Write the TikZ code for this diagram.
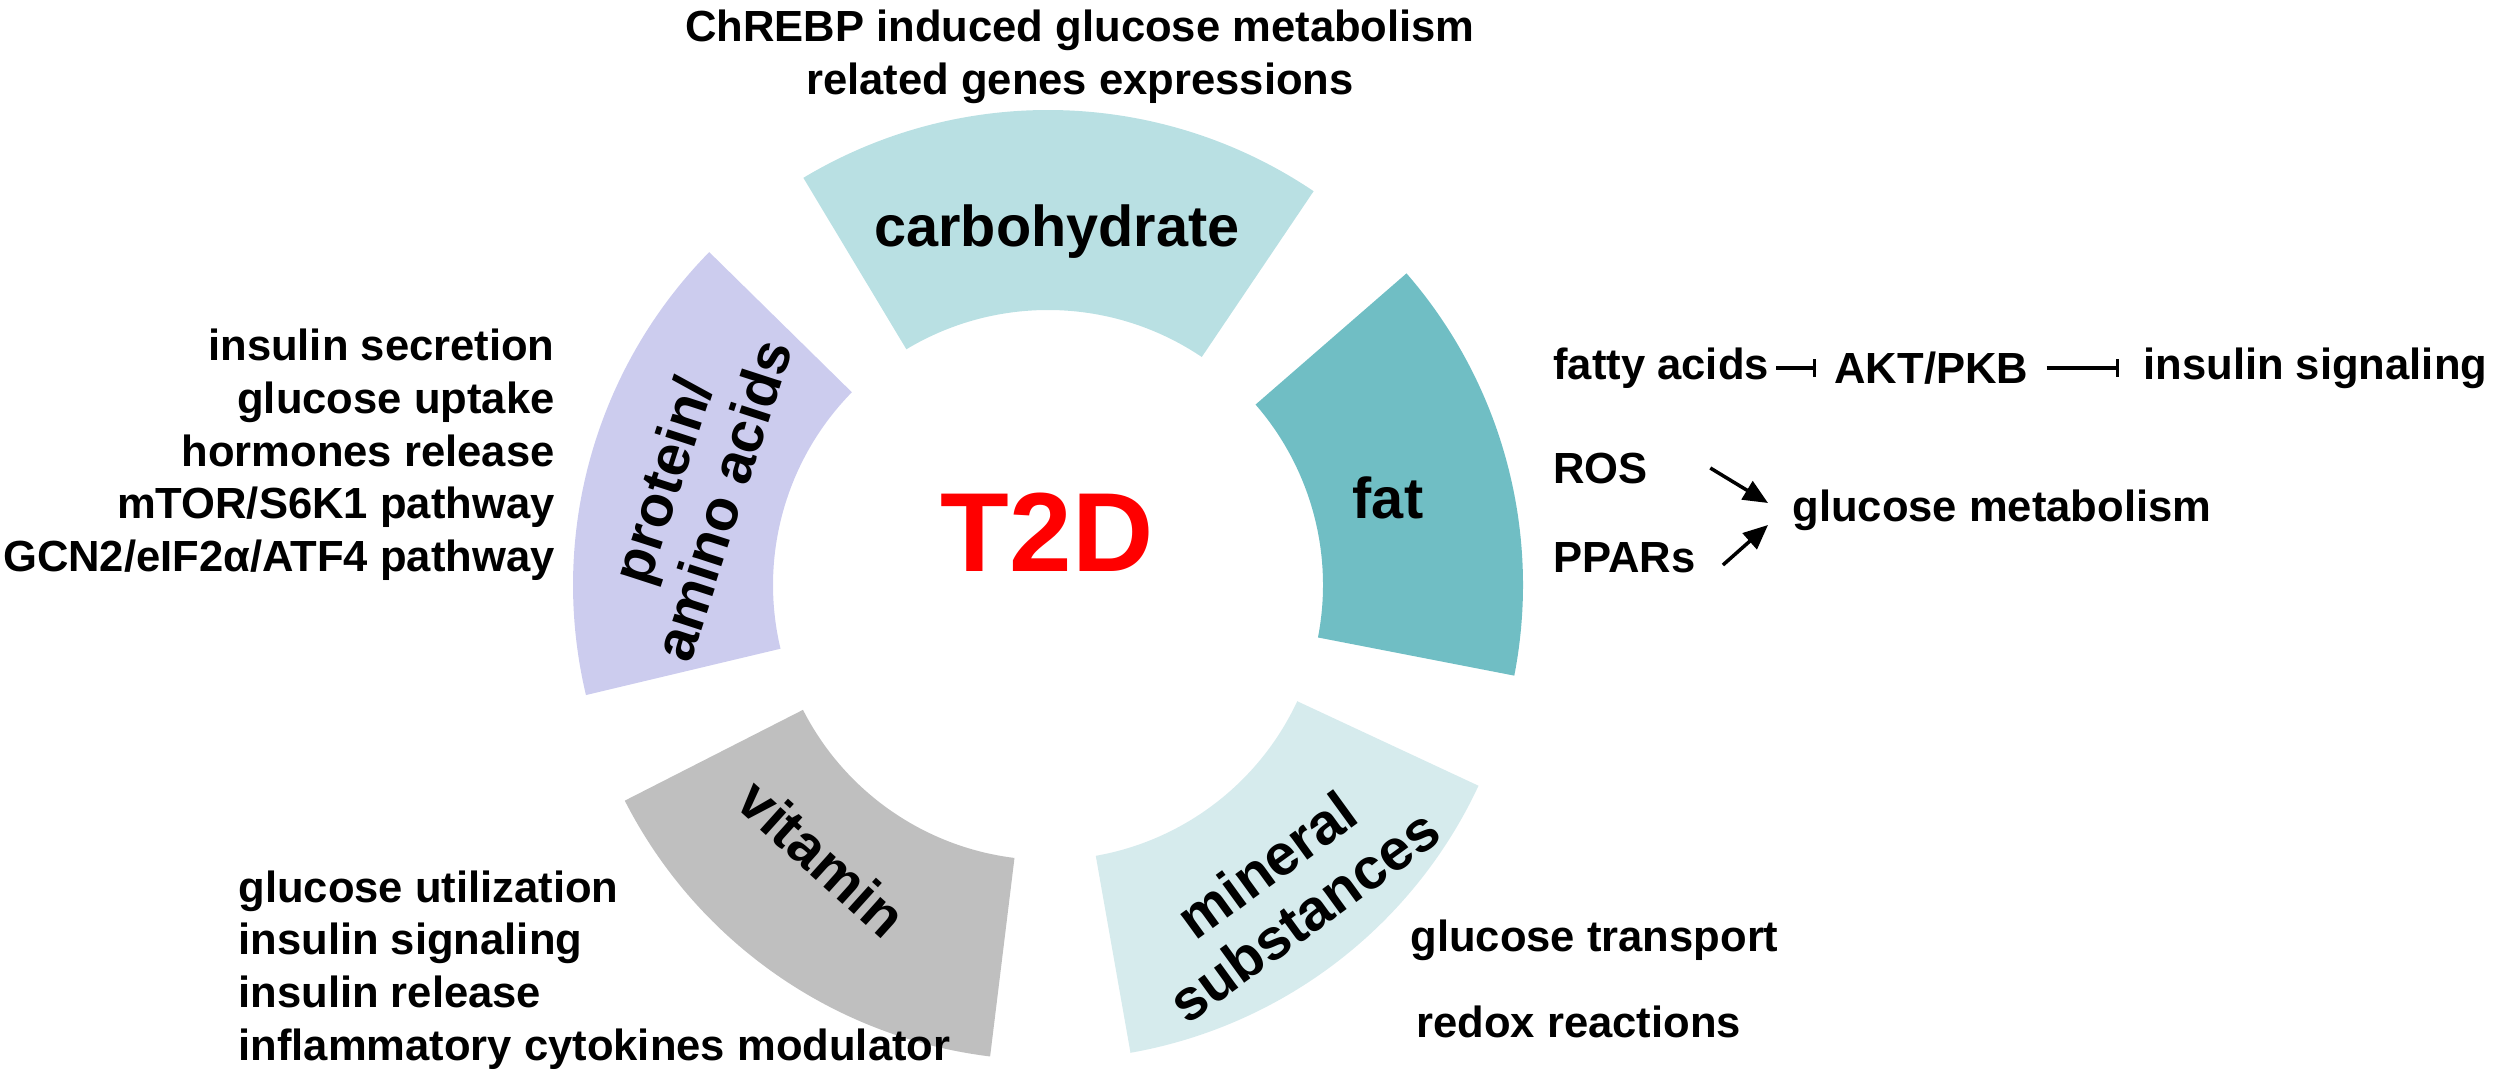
\documentclass[tikz,border=0pt]{standalone}
\usepackage{fontspec}
\setmainfont{Liberation Sans}
\usetikzlibrary{arrows.meta}

\definecolor{carbfill}{RGB}{185,224,227}
\definecolor{fatfill}{RGB}{112,190,196}
\definecolor{minefill}{RGB}{214,235,237}
\definecolor{vitfill}{RGB}{191,191,191}
\definecolor{protfill}{RGB}{204,204,238}
\definecolor{t2dred}{RGB}{255,0,0}

\begin{document}
\begin{tikzpicture}[
    every node/.style={font=\bfseries\fontsize{12.4}{15}\selectfont},
    seg/.style={font=\bfseries\fontsize{16.4}{18}\selectfont},
    inh/.style={line width=1pt, -{Bar[width=5pt]}},
    act/.style={line width=1pt, -{Triangle[length=7pt,width=6pt]}}
  ]
  \useasboundingbox (0,0) rectangle (25,-10.86);

  \foreach \a/\b/\c in {56/121/carbfill, -11/41/fatfill, -80/-25/minefill,
                        207/263/vitfill, 135.5/193.4/protfill}
    \fill[\c, shift={(10.48,-5.85)}] (\a:2.75) arc[start angle=\a, end angle=\b, radius=2.75]
      -- (\b:4.75) arc[start angle=\b, end angle=\a, radius=4.75] -- cycle;

  \node[seg] (carb) at (10.57,-2.32) {carbohydrate};
  \node[seg] (fat) at (13.88,-4.98) {fat};
  \node[seg, rotate=72, align=center] (prot) at (6.92,-4.90) {protein/\\amino acids};
  \node[seg, rotate=-42] (vit) at (8.22,-8.58) {vitamin};
  \node[seg, rotate=36, align=center] (mine) at (12.85,-8.90) {mineral\\substances};
  \node[font=\bfseries\fontsize{32}{36}\selectfont, text=t2dred] (t2d) at (10.47,-5.32) {T2D};

  \node[align=center] (chrebp) at (10.80,-0.57) {ChREBP induced glucose metabolism\\related genes expressions};
  \node[anchor=east, align=right] (protfx) at (5.67,-4.55) {insulin secretion\\glucose uptake\\hormones release\\mTOR/S6K1 pathway\\GCN2/eIF2α/ATF4 pathway};
  \node[anchor=west, align=left] (vitfx) at (2.26,-9.70) {glucose utilization\\insulin signaling\\insulin release\\inflammatory cytokines modulator};
  \node[anchor=west] (gtrans) at (13.98,-9.40) {glucose transport};
  \node[anchor=west] (redox) at (14.04,-10.22) {redox reactions};

  \node[anchor=west] (fatty) at (15.41,-3.68) {fatty acids};
  \node[anchor=west] (akt) at (18.22,-3.68) {AKT/PKB};
  \node[anchor=west] (insig) at (21.31,-3.68) {insulin signaling};
  \node[anchor=west] (ros) at (15.41,-4.68) {ROS};
  \node[anchor=west] (ppar) at (15.41,-5.58) {PPARs};
  \node[anchor=west] (gluc) at (17.80,-5.10) {glucose metabolism};

  \draw[inh, shorten <=-0.5mm, shorten >=0.6mm] (fatty) -- (akt);
  \draw[inh, shorten <=0.6mm, shorten >=1.2mm] (akt) -- (insig);
  \draw[act] ([xshift=5mm]ros.east) -- ([shift={(-0.12,0.07)}]gluc.west);
  \draw[act] ([shift={(0.15,-0.07)}]ppar.east) -- ([shift={(-0.12,-0.15)}]gluc.west);
\end{tikzpicture}
\end{document}
